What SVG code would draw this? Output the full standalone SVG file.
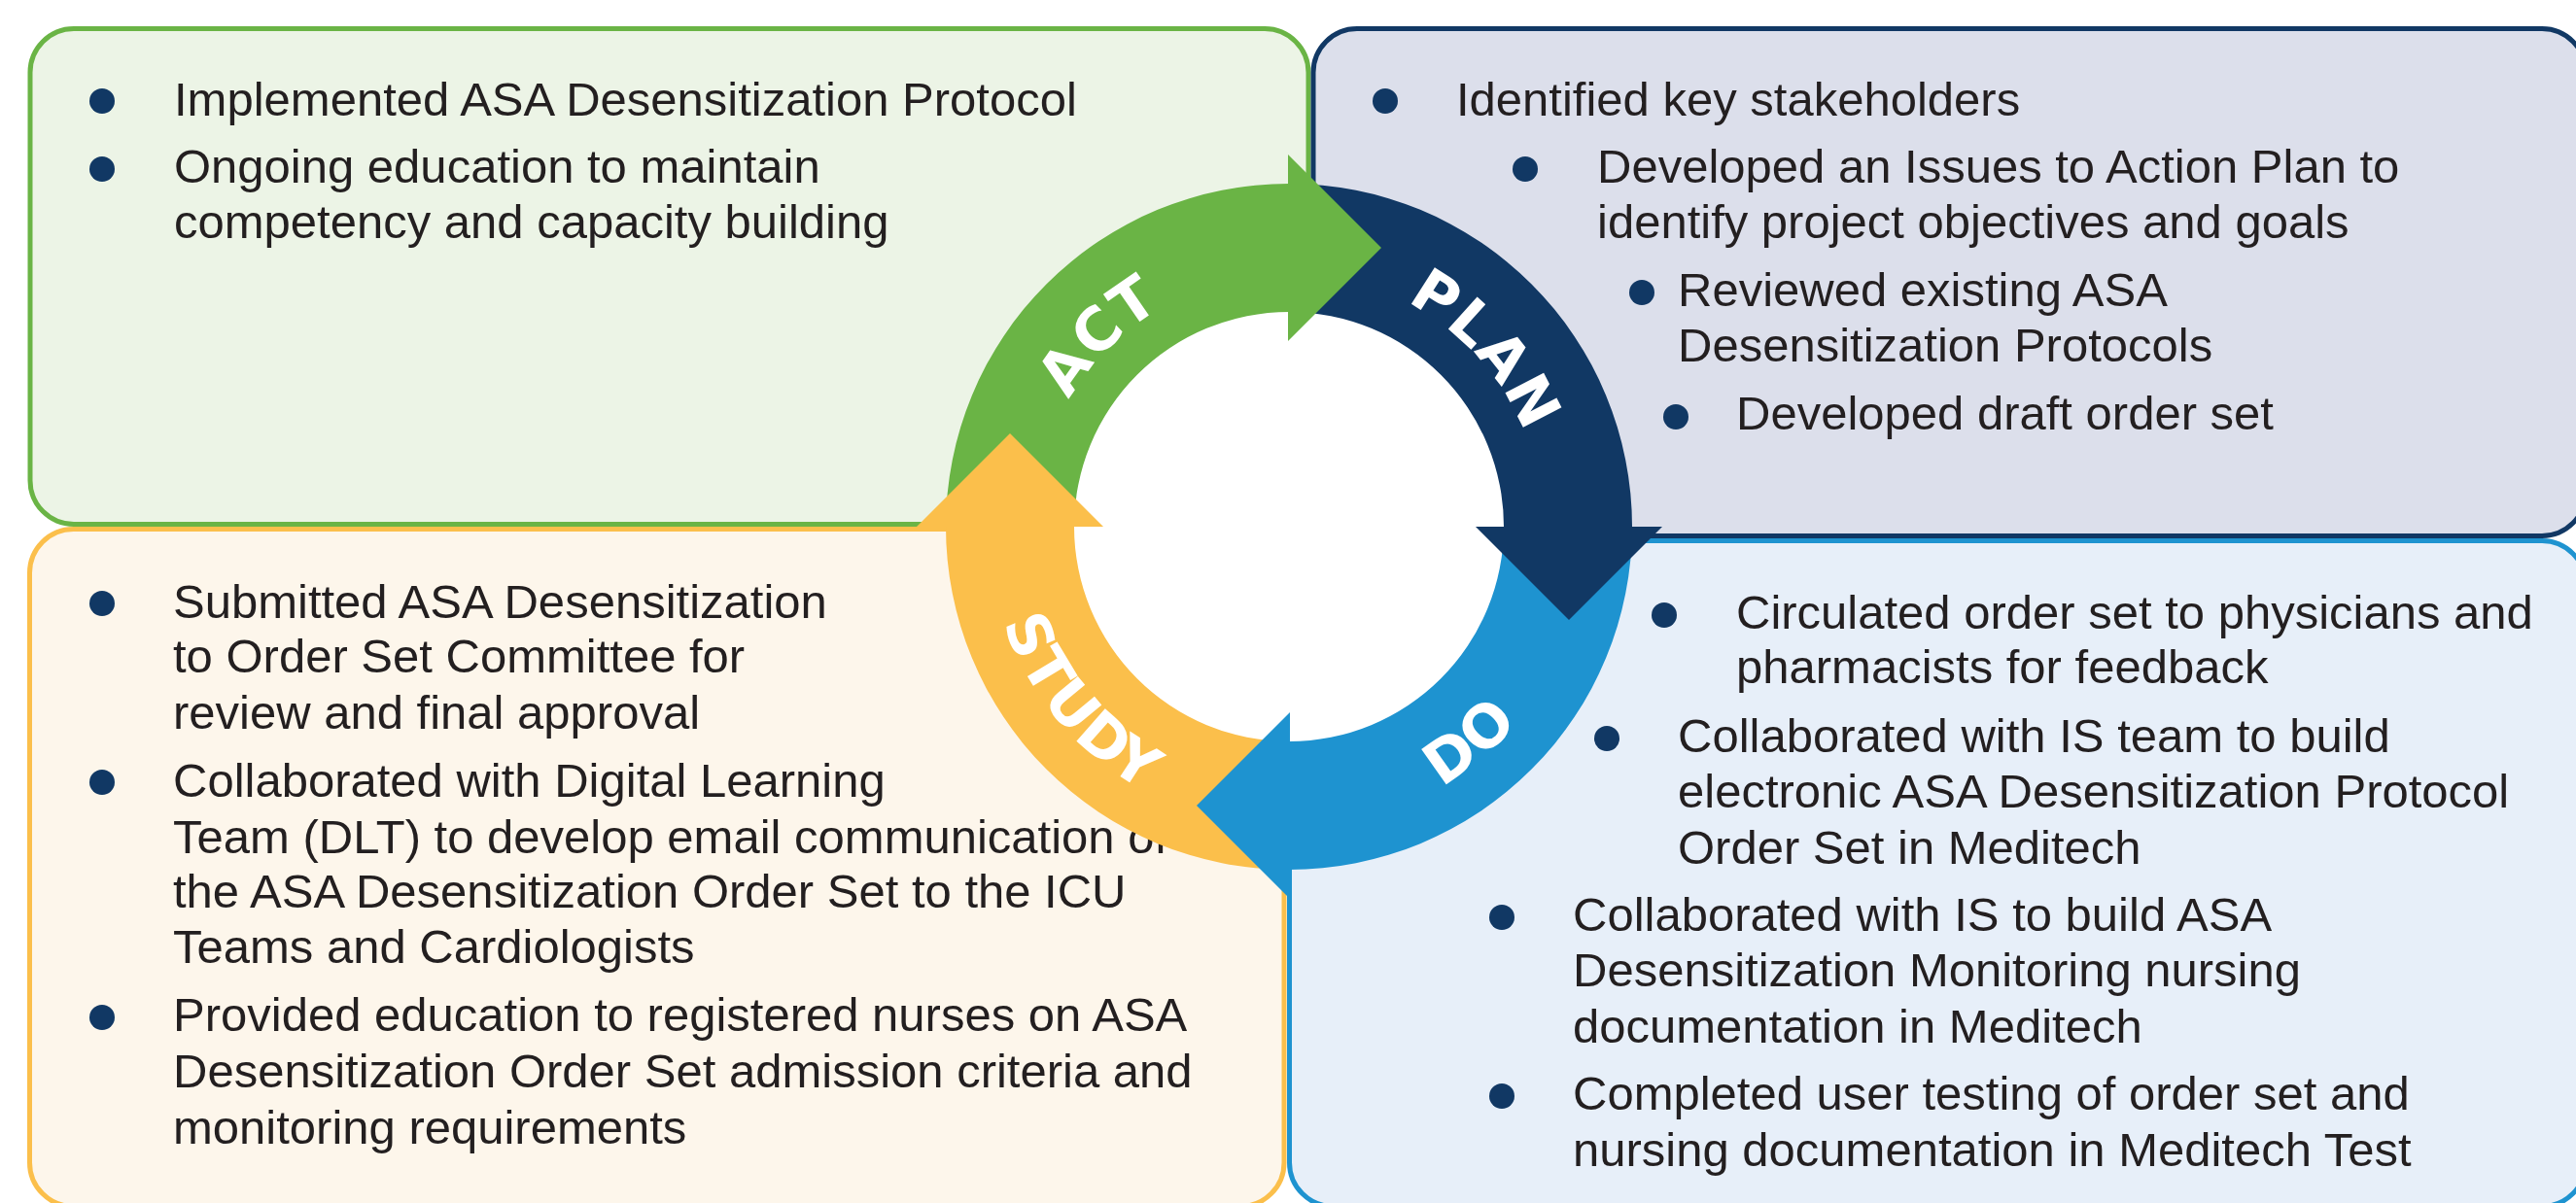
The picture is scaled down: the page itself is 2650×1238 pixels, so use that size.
<svg xmlns="http://www.w3.org/2000/svg" xmlns:xlink="http://www.w3.org/1999/xlink" width="2650" height="1238" viewBox="0 0 2650 1238">
<style>
  .box { stroke-width: 5; }
  .t { font-family: "Liberation Sans", Arial, sans-serif; font-size: 49px; fill: #231f20; }
  .b { fill: #113864; }
  .lbl { font-family: "DejaVu Sans", "Liberation Sans", sans-serif; font-weight: bold; font-size: 61px; fill: #ffffff; letter-spacing: 1px; }
</style>
<defs>
  <path id="pAct" d="M 1066.0 564.7 A 261 261 0 0 1 1348.7 282.0"/>
  <path id="pPlan" d="M 1316.9 281.2 A 261 261 0 0 1 1584.5 578.3"/>
  <path id="pDo" d="M 1272.2 847.3 A 310 310 0 0 0 1636 542"/>
  <path id="pStudy" d="M 1020.7 488.2 A 310 310 0 0 0 1326 852"/>
</defs>
<rect width="2650" height="1238" fill="#ffffff"/>

<g id="node-act">
  <rect class="box" x="31" y="29.5" width="1315" height="510" rx="45" fill="#ecf4e6" stroke="#6ab445"/>
  <circle class="b" cx="105" cy="104" r="13"/>
  <text class="t" x="179" y="119">Implemented ASA Desensitization Protocol</text>
  <circle class="b" cx="105" cy="174" r="13"/>
  <text class="t" x="179" y="188">Ongoing education to maintain</text>
  <text class="t" x="179" y="245">competency and capacity building</text>
</g>

<g id="node-plan">
  <rect class="box" x="1351" y="29.5" width="1309" height="522" rx="45" fill="#dcdfeb" stroke="#113864"/>
  <circle class="b" cx="1425" cy="104" r="13"/>
  <text class="t" x="1498" y="119">Identified key stakeholders</text>
  <circle class="b" cx="1569" cy="174" r="13"/>
  <text class="t" x="1643" y="188">Developed an Issues to Action Plan to</text>
  <text class="t" x="1643" y="245">identify project objectives and goals</text>
  <circle class="b" cx="1689" cy="301" r="13"/>
  <text class="t" x="1726" y="315">Reviewed existing ASA</text>
  <text class="t" x="1726" y="372">Desensitization Protocols</text>
  <circle class="b" cx="1724" cy="429" r="13"/>
  <text class="t" x="1786" y="442">Developed draft order set</text>
</g>

<g id="node-study">
  <rect class="box" x="30.5" y="544.5" width="1290.5" height="697" rx="45" fill="#fdf6eb" stroke="#fbbf4b"/>
  <circle class="b" cx="105" cy="621" r="13"/>
  <text class="t" x="178" y="636">Submitted ASA Desensitization</text>
  <text class="t" x="178" y="692">to Order Set Committee for</text>
  <text class="t" x="178" y="750">review and final approval</text>
  <circle class="b" cx="105" cy="805" r="13"/>
  <text class="t" x="178" y="820">Collaborated with Digital Learning</text>
  <text class="t" x="178" y="878">Team (DLT) to develop email communication of</text>
  <text class="t" x="178" y="934">the ASA Desensitization Order Set to the ICU</text>
  <text class="t" x="178" y="991">Teams and Cardiologists</text>
  <circle class="b" cx="105" cy="1047" r="13"/>
  <text class="t" x="178" y="1061">Provided education to registered nurses on ASA</text>
  <text class="t" x="178" y="1119">Desensitization Order Set admission criteria and</text>
  <text class="t" x="178" y="1177">monitoring requirements</text>
</g>

<g id="node-do">
  <rect class="box" x="1326.5" y="556.5" width="1333.5" height="685" rx="45" fill="#e7eff9" stroke="#1e93d0"/>
  <circle class="b" cx="1712" cy="633" r="13"/>
  <text class="t" x="1786" y="647">Circulated order set to physicians and</text>
  <text class="t" x="1786" y="703">pharmacists for feedback</text>
  <circle class="b" cx="1653" cy="760" r="13"/>
  <text class="t" x="1726" y="774">Collaborated with IS team to build</text>
  <text class="t" x="1726" y="831">electronic ASA Desensitization Protocol</text>
  <text class="t" x="1726" y="889">Order Set in Meditech</text>
  <circle class="b" cx="1545" cy="944" r="13"/>
  <text class="t" x="1618" y="958">Collaborated with IS to build ASA</text>
  <text class="t" x="1618" y="1015">Desensitization Monitoring nursing</text>
  <text class="t" x="1618" y="1073">documentation in Meditech</text>
  <circle class="b" cx="1545" cy="1128" r="13"/>
  <text class="t" x="1618" y="1142">Completed user testing of order set and</text>
  <text class="t" x="1618" y="1200">nursing documentation in Meditech Test</text>
</g>

<circle id="center" cx="1326" cy="542" r="222" fill="#ffffff"/>

<g id="connectors">
  <path id="arc-act" d="M 973 542 A 353 353 0 0 1 1326 189 L 1326 321 A 221 221 0 0 0 1105 542 Z" fill="#6ab445"/>
  <path id="arc-plan" d="M 1326 189 A 353 353 0 0 1 1679 542 L 1547 542 A 221 221 0 0 0 1326 321 Z" fill="#113864"/>
  <path id="arc-do" d="M 1679 542 A 353 353 0 0 1 1326 895 L 1326 763 A 221 221 0 0 0 1547 542 Z" fill="#1e93d0"/>
  <path id="arc-study" d="M 1326 895 A 353 353 0 0 1 973 542 L 1105 542 A 221 221 0 0 0 1326 763 Z" fill="#fbbf4b"/>
  <path id="head-act" d="M 1325 159 L 1421 255 L 1325 351 Z" fill="#6ab445"/>
  <path id="head-plan" d="M 1518 542 L 1710 542 L 1614 638 Z" fill="#113864"/>
  <path id="head-do" d="M 1327 733 L 1327 925 L 1231 829 Z" fill="#1e93d0"/>
  <path id="head-study" d="M 943 542 L 1135 542 L 1039 446 Z" fill="#fbbf4b"/>
</g>

<g id="label-act"><text class="lbl" text-anchor="middle"><textPath xlink:href="#pAct" href="#pAct" startOffset="50%">ACT</textPath></text></g>
<g id="label-plan"><text class="lbl" text-anchor="middle"><textPath xlink:href="#pPlan" href="#pPlan" startOffset="50%">PLAN</textPath></text></g>
<g id="label-do"><text class="lbl" text-anchor="middle"><textPath xlink:href="#pDo" href="#pDo" startOffset="50%">DO</textPath></text></g>
<g id="label-study"><text class="lbl" text-anchor="middle"><textPath xlink:href="#pStudy" href="#pStudy" startOffset="50%">STUDY</textPath></text></g>
</svg>
